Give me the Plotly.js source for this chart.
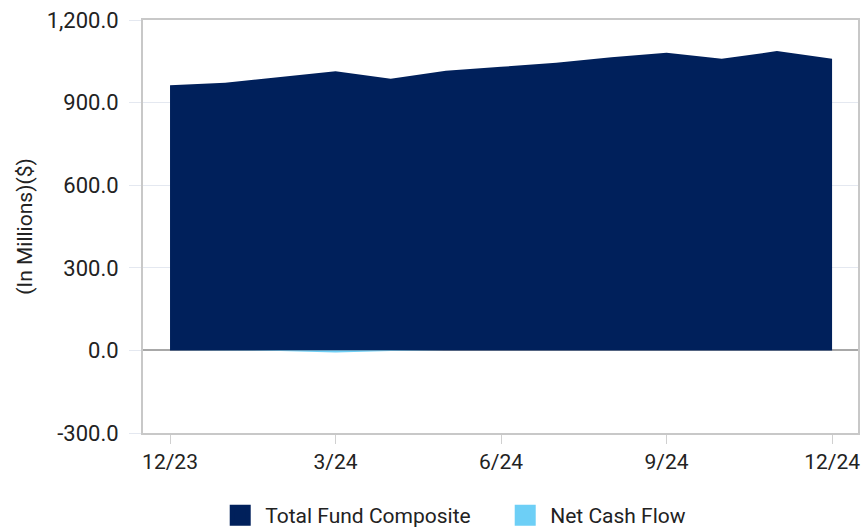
<!DOCTYPE html>
<html>
<head>
<meta charset="utf-8">
<script src="https://cdn.plot.ly/plotly-3.0.1.min.js"></script>
<style>html,body{margin:0;padding:0;background:#fff;}#chart{width:863px;height:527px;}</style>
</head>
<body>
<div id="chart"></div>
<script>
const months = ["12/23","1/24","2/24","3/24","4/24","5/24","6/24","7/24","8/24","9/24","10/24","11/24","12/24"];
const totalFund = [963, 972, 993, 1014, 987, 1016, 1030, 1045, 1065, 1081, 1059, 1087, 1059];
const netCashFlow = [0, 0, -2, -8, -2, 0, 0, 0, 0, 0, 0, 0, 0];
const xTickLabels = ["12/23","3/24","6/24","9/24","12/24"];
const yTickValues = [-300, 0, 300, 600, 900, 1200];
const yTickLabels = ["-300.0", "0.0", "300.0", "600.0", "900.0", "1,200.0"];
const seriesNames = ["Total Fund Composite", "Net Cash Flow"];
const seriesColors = ["#00205b", "#6dcff6"];

const traces = [
  {x: months, y: totalFund, name: seriesNames[0], type: "scatter", mode: "lines", showlegend: false,
   fill: "tozeroy", line: {width: 0, color: seriesColors[0]}, fillcolor: seriesColors[0], hoverinfo: "skip"},
  {x: months, y: netCashFlow, name: seriesNames[1], type: "scatter", mode: "lines", showlegend: false,
   fill: "tozeroy", line: {width: 0, color: seriesColors[1]}, fillcolor: seriesColors[1], hoverinfo: "skip"},
  {x: [null], y: [null], name: seriesNames[0], type: "scatter", mode: "markers",
   marker: {symbol: "square", size: 22, color: seriesColors[0], line: {width: 6, color: seriesColors[0]}}},
  {x: [null], y: [null], name: seriesNames[1], type: "scatter", mode: "markers",
   marker: {symbol: "square", size: 22, color: seriesColors[1], line: {width: 6, color: seriesColors[1]}}}
];

const layout = {
  width: 863, height: 527,
  margin: {l: 143, r: 5, t: 20, b: 94, autoexpand: false},
  paper_bgcolor: "#fff", plot_bgcolor: "#fff",
  font: {family: "Roboto, sans-serif", size: 20, color: "#222"},
  showlegend: true,
  legend: {orientation: "h", x: 0.101, xanchor: "left", y: -0.2, yanchor: "middle",
           font: {size: 21, color: "#222"}, itemsizing: "trace", traceorder: "normal",
           itemwidth: 40, entrywidth: 230},
  xaxis: {type: "category", range: [-0.49, 12.47], tickmode: "array", tickvals: xTickLabels, ticktext: xTickLabels,
          showgrid: false, zeroline: false, showline: true, linecolor: "#c8c8c8", linewidth: 2, mirror: true,
          ticks: "outside", ticklen: 9, tickcolor: "#d0d0d0", tickfont: {size: 21, color: "#222"}},
  yaxis: {range: [-300, 1200], tickmode: "array", tickvals: yTickValues, ticktext: yTickLabels,
          showgrid: true, gridcolor: "#e4e8f0", gridwidth: 1,
          zeroline: true, zerolinecolor: "#a8a8a8", zerolinewidth: 2,
          showline: true, linecolor: "#c8c8c8", linewidth: 2, mirror: true,
          ticks: "outside", ticklen: 12, tickcolor: "#e4e8f0", ticklabelstandoff: 6,
          tickfont: {size: 22, color: "#222"},
          title: {text: "(In Millions)($)", font: {size: 21, color: "#222"}, standoff: 8}}
};

Plotly.newPlot("chart", traces, layout, {displayModeBar: false, staticPlot: true});
</script>
</body>
</html>
